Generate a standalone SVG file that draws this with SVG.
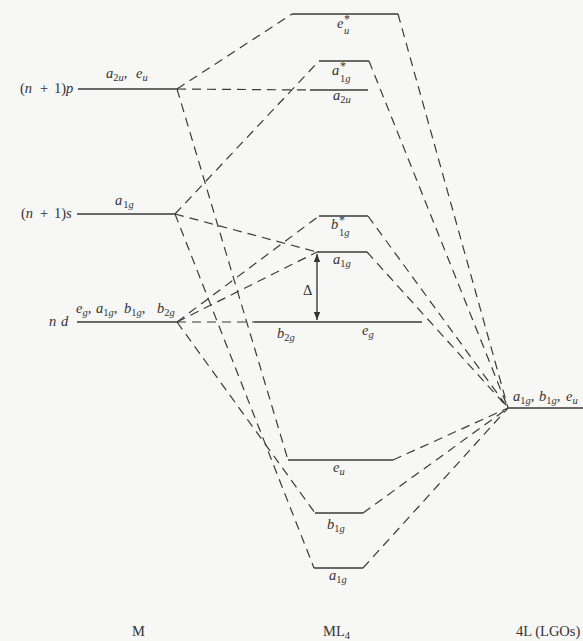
<svg xmlns="http://www.w3.org/2000/svg" width="583" height="641" viewBox="0 0 583 641">
<style>
.bg{fill:#f7f7f5}
.lv{stroke:#3a3a3a;stroke-width:1.4;fill:none}
.cn{stroke:#3a3a3a;stroke-width:1.2;fill:none;stroke-dasharray:9 6}
text{font-family:"Liberation Serif","Times New Roman",serif;font-size:14.5px;fill:#333}
.i{font-style:italic}
.sb{font-size:10.5px}
.st{font-size:12px}
</style>
<defs>
<marker id="ah" viewBox="0 0 10 10" refX="10" refY="5" markerWidth="8" markerHeight="9" orient="auto-start-reverse" markerUnits="userSpaceOnUse">
<path d="M0,1 L10,5 L0,9 z" fill="#333"/>
</marker>
</defs>
<rect class="bg" x="0" y="0" width="583" height="641"/>

<g id="connectors">
<path class="cn" d="M177,89 L292,14"/>
<path class="cn" d="M177,89 L310,90"/>
<path class="cn" d="M177,89 L288,460"/>
<path class="cn" d="M175,214 L319,61"/>
<path class="cn" d="M175,214 L317,252"/>
<path class="cn" d="M175,214 L314,568"/>
<path class="cn" d="M177,322 L319,216"/>
<path class="cn" d="M177,322 L317,252"/>
<path class="cn" d="M177,322 L254,322"/>
<path class="cn" d="M177,322 L315,513"/>
<path class="cn" d="M398,14 L508,408"/>
<path class="cn" d="M369,61 L508,408"/>
<path class="cn" d="M368,216 L508,408"/>
<path class="cn" d="M367,252 L508,408"/>
<path class="cn" d="M393,460 L508,408"/>
<path class="cn" d="M363,513 L508,408"/>
<path class="cn" d="M363,568 L508,408"/>
</g>

<g id="M-np">
<line class="lv" x1="78" y1="89" x2="177" y2="89"/>
<text x="20" y="93">(<tspan class="i">n</tspan><tspan x="40">+</tspan><tspan x="54">1)</tspan><tspan class="i">p</tspan></text>
<text x="106" y="78"><tspan class="i">a</tspan><tspan class="sb" dy="3">2<tspan class="i">u</tspan></tspan><tspan dy="-3">,</tspan><tspan class="i" x="136">e</tspan><tspan class="sb i" dy="3">u</tspan></text>
</g>
<g id="M-ns">
<line class="lv" x1="77" y1="214" x2="175" y2="214"/>
<text x="21" y="218">(<tspan class="i">n</tspan><tspan x="40">+</tspan><tspan x="54">1)</tspan><tspan class="i">s</tspan></text>
<text x="115" y="205"><tspan class="i">a</tspan><tspan class="sb" dx="1" dy="3">1<tspan class="i">g</tspan></tspan></text>
</g>
<g id="M-nd">
<line class="lv" x1="77" y1="322" x2="177" y2="322"/>
<text x="49" y="326" class="i">n<tspan x="61">d</tspan></text>
<text x="76" y="313"><tspan class="i">e</tspan><tspan class="sb i" dy="3">g</tspan><tspan dy="-3">,</tspan><tspan class="i" x="96">a</tspan><tspan class="sb" dy="3">1<tspan class="i">g</tspan></tspan><tspan dy="-3">,</tspan><tspan class="i" x="124">b</tspan><tspan class="sb" dy="3">1<tspan class="i">g</tspan></tspan><tspan dy="-3">,</tspan><tspan class="i" x="157">b</tspan><tspan class="sb" dy="3">2<tspan class="i">g</tspan></tspan></text>
</g>

<g id="ML4-eu-star">
<line class="lv" x1="292" y1="14" x2="398" y2="14"/>
<text x="337" y="28" class="i">e</text>
<text x="344" y="23" class="st">*</text>
<text x="344" y="34" class="sb i">u</text>
</g>
<g id="ML4-a1g-star">
<line class="lv" x1="319" y1="61" x2="369" y2="61"/>
<text x="332" y="75" class="i">a</text>
<text x="340" y="70" class="st">*</text>
<text x="340" y="82" class="sb">1<tspan class="i">g</tspan></text>
</g>
<g id="ML4-a2u">
<line class="lv" x1="310" y1="90" x2="368" y2="90"/>
<text x="333" y="100"><tspan class="i">a</tspan><tspan class="sb" dy="3">2<tspan class="i">u</tspan></tspan></text>
</g>
<g id="ML4-b1g-star">
<line class="lv" x1="319" y1="216" x2="368" y2="216"/>
<text x="331" y="229" class="i">b</text>
<text x="339" y="224" class="st">*</text>
<text x="339" y="236" class="sb">1<tspan class="i">g</tspan></text>
</g>
<g id="ML4-a1g-mid">
<line class="lv" x1="317" y1="252" x2="367" y2="252"/>
<text x="333" y="264"><tspan class="i">a</tspan><tspan class="sb" dy="3">1<tspan class="i">g</tspan></tspan></text>
</g>
<g id="ML4-b2g-eg">
<line class="lv" x1="254" y1="322" x2="422" y2="322"/>
<text x="277" y="338"><tspan class="i">b</tspan><tspan class="sb" dy="3">2<tspan class="i">g</tspan></tspan></text>
<text x="362" y="335"><tspan class="i">e</tspan><tspan class="sb i" dy="3">g</tspan></text>
</g>
<g id="delta">
<line class="lv" x1="317" y1="254" x2="317" y2="320" stroke-width="1.2" marker-start="url(#ah)" marker-end="url(#ah)"/>
<text x="303" y="295">Δ</text>
</g>
<g id="ML4-eu">
<line class="lv" x1="288" y1="460" x2="393" y2="460"/>
<text x="333" y="472"><tspan class="i">e</tspan><tspan class="sb i" dy="3">u</tspan></text>
</g>
<g id="ML4-b1g">
<line class="lv" x1="315" y1="513" x2="363" y2="513"/>
<text x="327" y="529"><tspan class="i">b</tspan><tspan class="sb" dy="3">1<tspan class="i">g</tspan></tspan></text>
</g>
<g id="ML4-a1g">
<line class="lv" x1="314" y1="568" x2="363" y2="568"/>
<text x="329" y="580"><tspan class="i">a</tspan><tspan class="sb" dy="3">1<tspan class="i">g</tspan></tspan></text>
</g>

<g id="LGO">
<line class="lv" x1="508" y1="408" x2="583" y2="408"/>
<text x="513" y="401"><tspan class="i">a</tspan><tspan class="sb" dy="3">1<tspan class="i">g</tspan></tspan><tspan dy="-3">,</tspan><tspan class="i" x="539">b</tspan><tspan class="sb" dy="3">1<tspan class="i">g</tspan></tspan><tspan dy="-3">,</tspan><tspan class="i" x="566">e</tspan><tspan class="sb i" dy="3">u</tspan></text>
</g>

<g id="captions">
<text x="132" y="636">M</text>
<text x="323" y="636">ML<tspan class="sb" dy="3">4</tspan></text>
<text x="516" y="636">4L (LGOs)</text>
</g>
</svg>
